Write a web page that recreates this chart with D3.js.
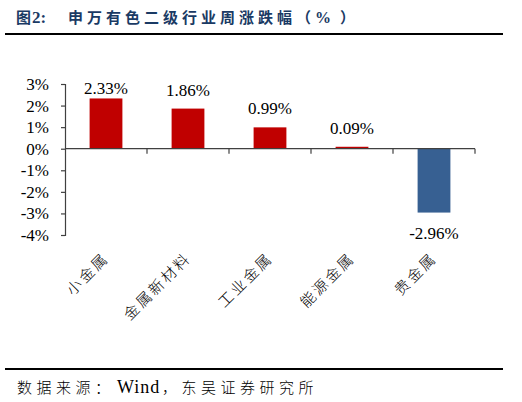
<!DOCTYPE html>
<html>
<head>
<meta charset="utf-8">
<script src="https://cdn.jsdelivr.net/npm/d3@7"></script>
<style>
  body { margin: 0; background: #fff; }
  svg { display: block; }
  .serif { font-family: 'Liberation Serif', 'Times New Roman', 'DejaVu Serif', serif; }
  .cjk { font-family: 'Noto Sans CJK SC', sans-serif; }
</style>
</head>
<body>
<script>
const categories = ['小金属', '金属新材料', '工业金属', '能源金属', '贵金属'];
const values = [2.33, 1.86, 0.99, 0.09, -2.96];
const yTicks = [3, 2, 1, 0, -1, -2, -3, -4];

const width = 522;
const height = 402;
const plot = {left: 65, right: 475, top: 84, bottom: 235};

const svg = d3.select('body')
  .append('svg')
  .attr('width', width)
  .attr('height', height);

// title
const title = svg.append('text')
  .attr('y', 23)
  .attr('font-size', 15)
  .attr('font-weight', 'bold')
  .attr('fill', '#1A3A64');
title.append('tspan').attr('class', 'cjk').attr('x', 16).text('图');
title.append('tspan').attr('class', 'serif').attr('font-size', 17).attr('dx', 1).text('2:');
title.append('tspan').attr('class', 'cjk').attr('x', 68).attr('letter-spacing', 4).text('申万有色二级行业周涨跌幅');
title.append('tspan').attr('class', 'cjk').attr('x', 296).text('（');
title.append('tspan').attr('class', 'serif').attr('x', 315).attr('font-size', 16).text('%');
title.append('tspan').attr('class', 'cjk').attr('x', 340).text('）');

svg.append('line')
  .attr('x1', 5).attr('x2', 503)
  .attr('y1', 34).attr('y2', 34)
  .attr('stroke', '#000')
  .attr('stroke-width', 2);

svg.append('line')
  .attr('x1', 5).attr('x2', 503)
  .attr('y1', 369).attr('y2', 369)
  .attr('stroke', '#000')
  .attr('stroke-width', 2);

// source note
const source = svg.append('text')
  .attr('y', 393)
  .attr('font-size', 15)
  .attr('fill', '#000');
source.append('tspan').attr('class', 'cjk').attr('x', 17).attr('font-weight', 300).attr('letter-spacing', 4.5).text('数据来源：');
source.append('tspan').attr('class', 'serif').attr('x', 117).attr('font-size', 18).attr('letter-spacing', 1).text('Wind');
source.append('tspan').attr('class', 'cjk').attr('x', 162).attr('font-weight', 300).attr('letter-spacing', 4.5).text('，东吴证券研究所');

const xScale = d3.scaleBand()
  .domain(categories)
  .range([plot.left, plot.right])
  .padding(0);

const yScale = d3.scaleLinear()
  .domain([d3.min(yTicks), d3.max(yTicks)])
  .range([plot.bottom, plot.top]);

const axisColor = '#404040';

// y axis
const yAxis = d3.axisLeft(yScale)
  .tickValues(yTicks)
  .tickSize(4)
  .tickPadding(12)
  .tickFormat(d => d + '%');

const yGroup = svg.append('g')
  .attr('transform', `translate(${plot.left},0)`)
  .call(yAxis)
  .attr('font-family', null)
  .attr('font-size', null);
yGroup.select('.domain').attr('stroke', axisColor).attr('stroke-width', 1.2);
yGroup.selectAll('.tick line').attr('stroke', axisColor).attr('stroke-width', 1.2);
yGroup.selectAll('.tick text')
  .attr('class', 'serif')
  .attr('font-size', 17)
  .attr('fill', '#000');

// bars
const barW = xScale.bandwidth() * 0.4;
svg.selectAll('rect.bar')
  .data(values)
  .enter()
  .append('rect')
  .attr('class', 'bar')
  .attr('x', (d, i) => xScale(categories[i]) + xScale.bandwidth() / 2 - barW / 2)
  .attr('y', d => yScale(Math.max(0, d)))
  .attr('width', barW)
  .attr('height', d => Math.abs(yScale(d) - yScale(0)))
  .attr('fill', d => d >= 0 ? '#C00000' : '#376092');

// x axis at zero with band boundary ticks
const zeroY = yScale(0);
const xGroup = svg.append('g');
xGroup.append('line')
  .attr('x1', plot.left).attr('x2', plot.right)
  .attr('y1', zeroY).attr('y2', zeroY)
  .attr('stroke', axisColor)
  .attr('stroke-width', 1.2);
const bounds = categories.map(c => xScale(c)).concat([xScale.range()[1]]);
xGroup.selectAll('line.xt')
  .data(bounds.slice(1))
  .enter()
  .append('line')
  .attr('class', 'xt')
  .attr('x1', d => d).attr('x2', d => d)
  .attr('y1', zeroY).attr('y2', zeroY + 5)
  .attr('stroke', axisColor)
  .attr('stroke-width', 1.2);

// value labels
svg.selectAll('text.val')
  .data(values)
  .enter()
  .append('text')
  .attr('class', 'val serif')
  .attr('x', (d, i) => xScale(categories[i]) + xScale.bandwidth() / 2)
  .attr('y', d => d >= 0 ? Math.max(yScale(d) - 13, plot.top + 10) : yScale(d) + 26)
  .attr('text-anchor', 'middle')
  .attr('font-size', 17)
  .attr('fill', '#000')
  .text(d => d.toFixed(2) + '%');

// category labels, rotated
svg.selectAll('text.cat')
  .data(categories)
  .enter()
  .append('text')
  .attr('class', 'cat cjk')
  .attr('transform', d => `translate(${xScale(d) + xScale.bandwidth() / 2 + 4},259) rotate(-45)`)
  .attr('text-anchor', 'end')
  .attr('font-size', 15)
  .attr('font-weight', 300)
  .attr('letter-spacing', 2.5)
  .attr('fill', '#000')
  .text(d => d);
</script>
</body>
</html>
